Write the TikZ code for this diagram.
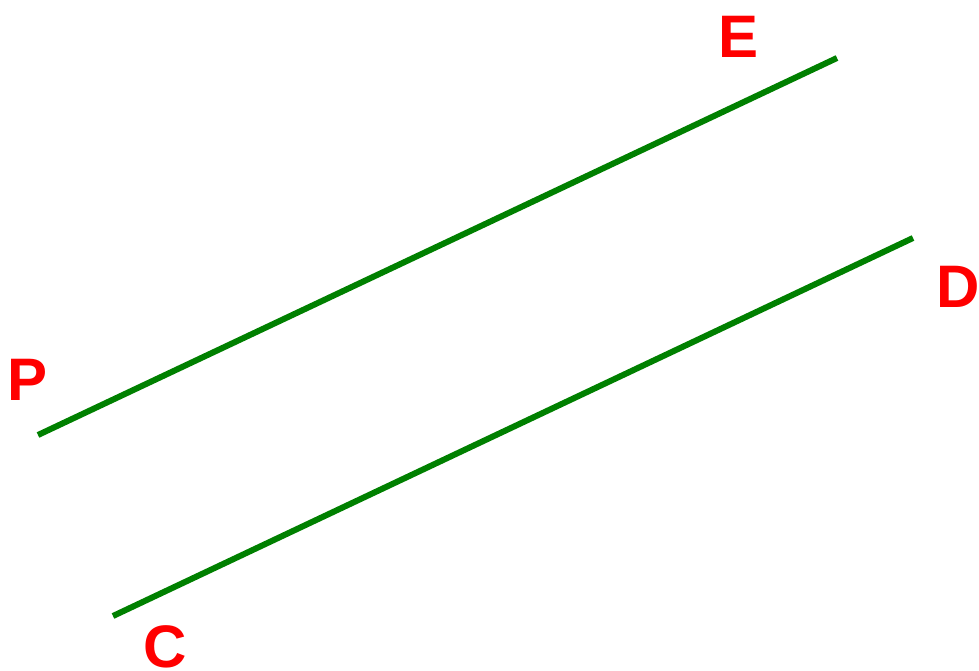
\documentclass[tikz,border=0pt]{standalone}
\usepackage{fontspec}
\setmainfont{Liberation Sans}
\definecolor{lgreen}{RGB}{0,128,0}
\definecolor{lred}{RGB}{255,0,0}
\begin{document}
\begin{tikzpicture}[x=1pt,y=-1pt,
  seg/.style={draw=lgreen,line width=6pt},
  lbl/.style={text=lred,font=\fontsize{60}{60}\selectfont\bfseries,inner sep=0pt,anchor=center}]
\useasboundingbox (0,0) rectangle (979,671);
\coordinate (p) at (38,435);
\coordinate (e) at (837,58);
\coordinate (c) at (113,616);
\coordinate (d) at (913,238);
\draw[seg] (p) -- (e);
\draw[seg] (c) -- (d);
\node[lbl] (le) at (738,37) {E};
\node[lbl] (ld) at (958,287) {D};
\node[lbl] (lp) at (28,380) {P};
\node[lbl] (lc) at (165,647) {C};
\end{tikzpicture}
\end{document}
